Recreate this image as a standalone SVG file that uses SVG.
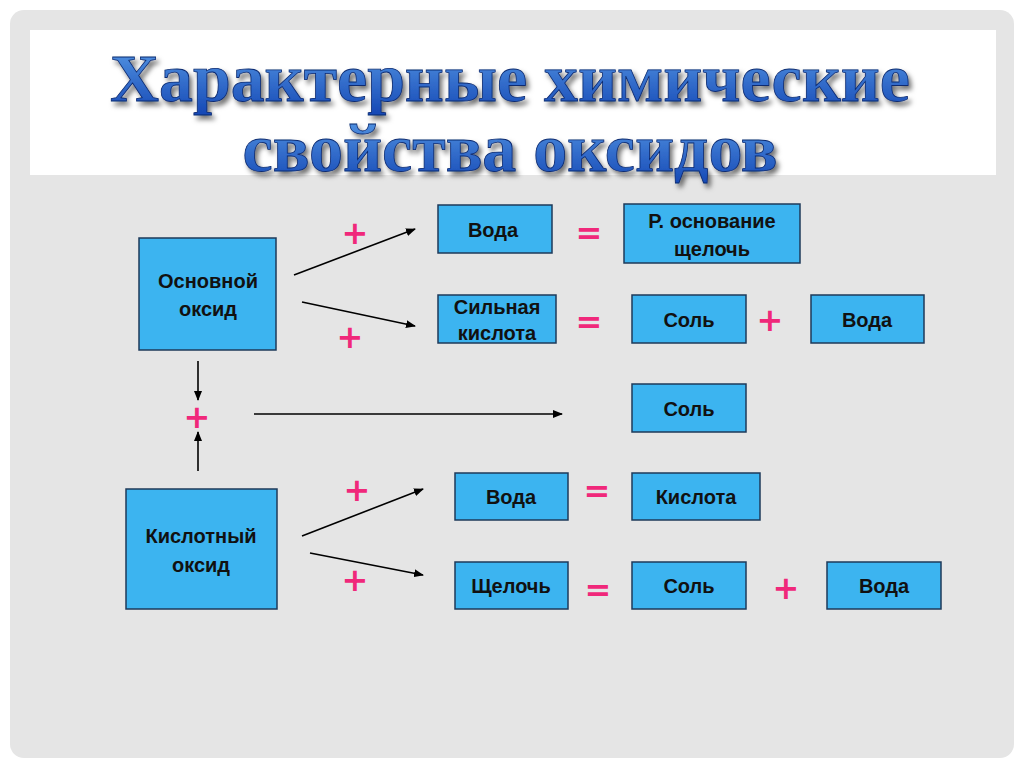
<svg xmlns="http://www.w3.org/2000/svg" width="1024" height="767" viewBox="0 0 1024 767">
<defs>
<marker id="ah" markerWidth="10" markerHeight="8" refX="9" refY="4" orient="auto" markerUnits="userSpaceOnUse"><path d="M0,0 L10,4 L0,8 Z" fill="#000"/></marker>
<linearGradient id="tg" x1="0" y1="0" x2="0" y2="1"><stop offset="0" stop-color="#5a9ee8"/><stop offset="1" stop-color="#1446b4"/></linearGradient>
<filter id="ds" x="-10%" y="-20%" width="120%" height="150%"><feDropShadow dx="3" dy="4" stdDeviation="2.5" flood-color="#000" flood-opacity="0.55"/></filter>
<style>
.box{fill:#3cb4f0;stroke:#1e3a5a;stroke-width:1.5}
.t{font-family:"Liberation Sans",Arial,sans-serif;font-weight:bold;font-size:20px;fill:#111;text-anchor:middle}
.op{font-family:"DejaVu Sans",sans-serif;font-weight:bold;font-size:32px;fill:#f0287a;text-anchor:middle}
.c{stroke:#000;stroke-width:1.6;fill:none;marker-end:url(#ah)}
.title{font-family:"Liberation Serif",serif;font-weight:bold;font-size:68px;fill:url(#tg);stroke:#0c2a70;stroke-width:0.8;text-anchor:middle;filter:url(#ds)}
</style>
</defs>
<rect width="1024" height="767" fill="#fff"/>
<rect x="10" y="10" width="1004" height="748" rx="14" fill="#e5e5e5"/>
<rect x="30" y="30" width="966" height="145" fill="#fff"/>
<g id="title">
<text class="title" x="510" y="101" textLength="800" lengthAdjust="spacingAndGlyphs">Характерные химические</text>
<text class="title" x="510" y="171" textLength="535" lengthAdjust="spacingAndGlyphs">свойства оксидов</text>
</g>
<g id="connectors">
<line class="c" x1="294" y1="275" x2="415" y2="229"/>
<line class="c" x1="302" y1="302" x2="415" y2="326"/>
<line class="c" x1="198" y1="361" x2="198" y2="400"/>
<line class="c" x1="198" y1="471" x2="198" y2="432"/>
<line class="c" x1="254" y1="414" x2="562" y2="414"/>
<line class="c" x1="302" y1="536" x2="423" y2="489"/>
<line class="c" x1="310" y1="553" x2="423" y2="575"/>
</g>
<g id="osn"><rect class="box" x="139" y="238" width="137" height="112"/><text class="t" x="208" y="288">Основной</text><text class="t" x="208" y="316">оксид</text></g>
<g id="voda1"><rect class="box" x="438" y="205" width="114" height="48"/><text class="t" x="493" y="237">Вода</text></g>
<g id="rosn"><rect class="box" x="624" y="204" width="176" height="59"/><text class="t" x="712" y="228">Р. основание</text><text class="t" x="712" y="256">щелочь</text></g>
<g id="silk"><rect class="box" x="438" y="295" width="118" height="48"/><text class="t" x="497" y="314">Сильная</text><text class="t" x="497" y="340">кислота</text></g>
<g id="sol1"><rect class="box" x="632" y="295" width="114" height="48"/><text class="t" x="689" y="327">Соль</text></g>
<g id="voda2"><rect class="box" x="811" y="295" width="113" height="48"/><text class="t" x="867" y="327">Вода</text></g>
<g id="sol2"><rect class="box" x="632" y="384" width="114" height="48"/><text class="t" x="689" y="416">Соль</text></g>
<g id="kisl"><rect class="box" x="126" y="489" width="151" height="120"/><text class="t" x="201" y="543">Кислотный</text><text class="t" x="201" y="572">оксид</text></g>
<g id="voda3"><rect class="box" x="455" y="473" width="113" height="47"/><text class="t" x="511" y="504">Вода</text></g>
<g id="kislota"><rect class="box" x="632" y="473" width="128" height="47"/><text class="t" x="696" y="504">Кислота</text></g>
<g id="shel"><rect class="box" x="455" y="562" width="113" height="47"/><text class="t" x="511" y="593">Щелочь</text></g>
<g id="sol3"><rect class="box" x="632" y="562" width="114" height="47"/><text class="t" x="689" y="593">Соль</text></g>
<g id="voda4"><rect class="box" x="827" y="562" width="114" height="47"/><text class="t" x="884" y="593">Вода</text></g>
<g id="ops">
<text class="op" x="355" y="244">+</text>
<text class="op" x="350" y="348">+</text>
<text class="op" x="197" y="428">+</text>
<text class="op" x="357" y="501">+</text>
<text class="op" x="355" y="591">+</text>
<text class="op" x="770" y="331">+</text>
<text class="op" x="786" y="599">+</text>
<text class="op" x="589" y="244">=</text>
<text class="op" x="589" y="333">=</text>
<text class="op" x="597" y="502">=</text>
<text class="op" x="598" y="601">=</text>
</g>
</svg>
